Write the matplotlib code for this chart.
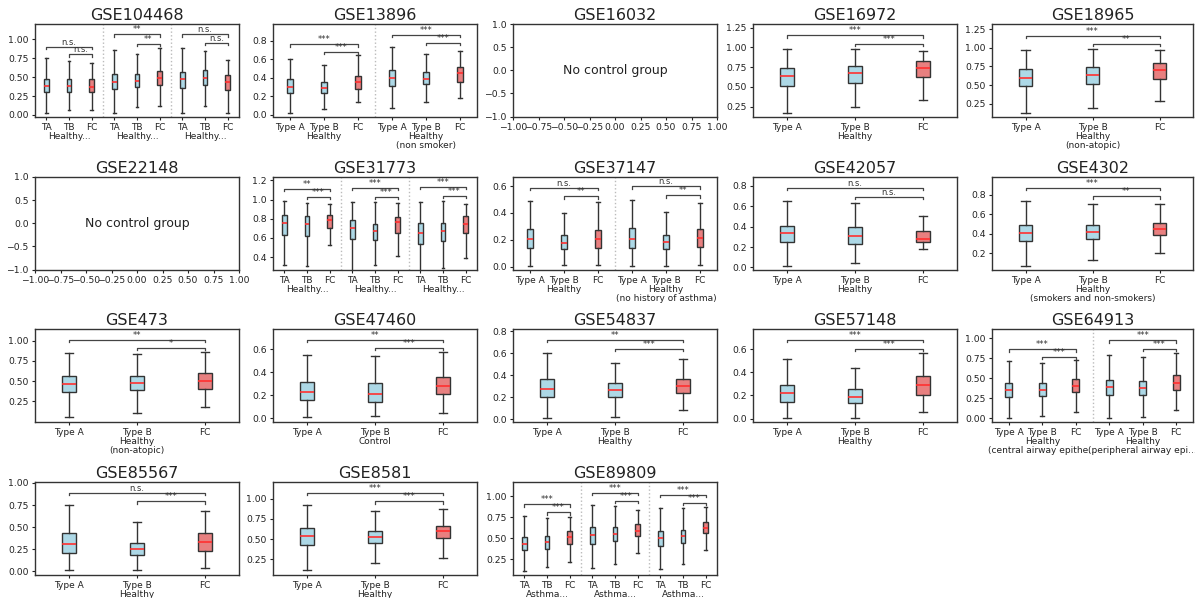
import matplotlib
matplotlib.use("Agg")
import matplotlib.pyplot as plt
import numpy as np

# box stats per box: [whisker low, q1, median, q3, whisker high]
# boxes come in groups of three: Type A, Type B, FC
GSE104468_box = [[0.03, 0.30, 0.38, 0.48, 0.75], [0.07, 0.30, 0.38, 0.47, 0.71], [0.07, 0.30, 0.37, 0.47, 0.69],
                 [0.03, 0.34, 0.43, 0.54, 0.86], [0.11, 0.365, 0.45, 0.535, 0.80], [0.12, 0.40, 0.49, 0.58, 0.88],
                 [0.03, 0.35, 0.47, 0.565, 0.88], [0.12, 0.40, 0.49, 0.59, 0.84], [0.03, 0.33, 0.44, 0.53, 0.73]]
GSE104468_sig = [[0.90, "n.s.", 0.80, "n.s."], [1.065, "**", 0.935, "**"], [1.065, "n.s.", 0.95, "n.s."]]
GSE104468_groups = ["Healthy...", "Healthy...", "Healthy..."]

GSE13896_box = [[0.02, 0.23, 0.30, 0.38, 0.60], [0.06, 0.23, 0.29, 0.35, 0.535], [0.14, 0.275, 0.35, 0.42, 0.64],
                [0.07, 0.31, 0.40, 0.48, 0.73], [0.14, 0.33, 0.39, 0.46, 0.66], [0.18, 0.35, 0.445, 0.52, 0.69]]
GSE13896_sig = [[0.76, "***", 0.68, "***"], [0.86, "***", 0.775, "***"]]
GSE13896_groups = ["Healthy", "Healthy\n(non smoker)"]

GSE16972_box = [[0.175, 0.51, 0.635, 0.74, 0.98], [0.25, 0.55, 0.67, 0.76, 0.98], [0.335, 0.627, 0.74, 0.83, 0.955]]
GSE16972_sig = [[1.15, "***", 1.04, "***"]]
GSE16972_groups = ["Healthy"]

GSE18965_box = [[0.13, 0.486, 0.597, 0.717, 0.975], [0.19, 0.52, 0.64, 0.743, 0.985], [0.285, 0.58, 0.70, 0.80, 0.97]]
GSE18965_sig = [[1.165, "***", 1.05, "**"]]
GSE18965_groups = ["Healthy\n(non-atopic)"]

GSE31773_box = [[0.32, 0.633, 0.755, 0.842, 0.984], [0.306, 0.62, 0.74, 0.83, 0.967], [0.53, 0.706, 0.79, 0.842, 0.95],
                [0.25, 0.584, 0.703, 0.79, 0.974], [0.32, 0.574, 0.668, 0.748, 0.974], [0.407, 0.654, 0.765, 0.817, 0.967],
                [0.25, 0.532, 0.65, 0.755, 0.974], [0.285, 0.567, 0.675, 0.758, 0.984], [0.39, 0.654, 0.75, 0.83, 0.95]]
GSE31773_sig = [[1.113, "**", 1.026, "***"], [1.123, "***", 1.026, "***"], [1.13, "***", 1.036, "***"]]
GSE31773_groups = ["Healthy...", "Healthy...", "Healthy..."]

GSE37147_box = [[0.005, 0.143, 0.205, 0.278, 0.4875], [0.01, 0.13, 0.18, 0.2375, 0.40], [0.01, 0.143, 0.21, 0.275, 0.478],
                [0.003, 0.143, 0.21, 0.285, 0.4975], [0.005, 0.13, 0.185, 0.2375, 0.4075], [0.01, 0.145, 0.2175, 0.2825, 0.475]]
GSE37147_sig = [[0.5875, "n.s.", 0.5225, "**"], [0.5975, "n.s.", 0.53, "**"]]
GSE37147_groups = ["Healthy", "Healthy\n(no history of asthma)"]

GSE42057_box = [[0.013, 0.2525, 0.338, 0.41, 0.646], [0.04, 0.23, 0.305, 0.393, 0.633], [0.177, 0.2525, 0.279, 0.36, 0.508]]
GSE42057_sig = [[0.777, "n.s.", 0.689, "n.s."]]
GSE42057_groups = ["Healthy"]

GSE4302_box = [[0.068, 0.321, 0.408, 0.484, 0.741], [0.13, 0.346, 0.418, 0.484, 0.703], [0.20, 0.384, 0.45, 0.512, 0.703]]
GSE4302_sig = [[0.87, "***", 0.783, "**"]]
GSE4302_groups = ["Healthy\n(smokers and non-smokers)"]

GSE473_box = [[0.056, 0.361, 0.464, 0.559, 0.848], [0.114, 0.386, 0.477, 0.567, 0.835], [0.18, 0.402, 0.50, 0.60, 0.856]]
GSE473_sig = [[1.012, "**", 0.909, "*"]]
GSE473_groups = ["Healthy\n(non-atopic)"]

GSE47460_box = [[0.009, 0.154, 0.226, 0.31, 0.551], [0.0145, 0.142, 0.212, 0.304, 0.542], [0.043, 0.209, 0.281, 0.354, 0.571]]
GSE47460_sig = [[0.681, "**", 0.609, "***"]]
GSE47460_groups = ["Control"]

GSE54837_box = [[0.009, 0.206, 0.28, 0.363, 0.606], [0.022, 0.206, 0.265, 0.329, 0.517], [0.083, 0.243, 0.30, 0.369, 0.548]]
GSE54837_sig = [[0.723, "**", 0.643, "***"]]
GSE54837_groups = ["Healthy"]

GSE57148_box = [[0.003, 0.146, 0.219, 0.293, 0.518], [0.003, 0.135, 0.19, 0.258, 0.439], [0.0585, 0.208, 0.29, 0.366, 0.571]]
GSE57148_sig = [[0.682, "***", 0.606, "***"]]
GSE57148_groups = ["Healthy"]

GSE64913_box = [[0.004, 0.265, 0.357, 0.445, 0.714], [0.034, 0.277, 0.357, 0.445, 0.693], [0.084, 0.328, 0.408, 0.487, 0.727],
                [0.004, 0.29, 0.387, 0.475, 0.786], [0.013, 0.29, 0.382, 0.47, 0.769], [0.105, 0.357, 0.445, 0.538, 0.819]]
GSE64913_sig = [[0.861, "***", 0.769, "***"], [0.97, "***", 0.866, "***"]]
GSE64913_groups = ["Healthy\n(central airway epithe...", "Healthy\n(peripheral airway epi..."]

GSE85567_box = [[0.011, 0.21, 0.313, 0.427, 0.752], [0.011, 0.179, 0.248, 0.324, 0.553], [0.0305, 0.229, 0.332, 0.435, 0.679]]
GSE85567_sig = [[0.889, "n.s.", 0.79, "***"]]
GSE85567_groups = ["Healthy"]

GSE8581_box = [[0.117, 0.425, 0.542, 0.633, 0.925], [0.20, 0.45, 0.529, 0.604, 0.854], [0.271, 0.5125, 0.60, 0.667, 0.871]]
GSE8581_sig = [[1.075, "***", 0.967, "***"]]
GSE8581_groups = ["Healthy"]

GSE89809_box = [[0.11, 0.358, 0.439, 0.519, 0.772], [0.162, 0.378, 0.459, 0.531, 0.739], [0.218, 0.439, 0.519, 0.591, 0.751],
                [0.142, 0.439, 0.543, 0.631, 0.90], [0.198, 0.471, 0.551, 0.631, 0.892], [0.322, 0.523, 0.591, 0.671, 0.844],
                [0.138, 0.41, 0.503, 0.591, 0.86], [0.19, 0.451, 0.523, 0.603, 0.86], [0.358, 0.559, 0.623, 0.691, 0.872]]
GSE89809_sig = [[0.904, "***", 0.812, "***"], [1.044, "***", 0.944, "***"], [1.02, "***", 0.92, "***"]]
GSE89809_groups = ["Asthma...", "Asthma...", "Asthma..."]

# title, boxes, significance, group names, ylim, yticks  (None = no control group)
panels = [
    ("GSE104468", GSE104468_box, GSE104468_sig, GSE104468_groups, (-0.02, 1.2), [0, 0.25, 0.5, 0.75, 1.0]),
    ("GSE13896", GSE13896_box, GSE13896_sig, GSE13896_groups, (-0.02, 0.98), [0, 0.2, 0.4, 0.6, 0.8]),
    ("GSE16032", None, None, None, None, None),
    ("GSE16972", GSE16972_box, GSE16972_sig, GSE16972_groups, (0.125, 1.295), [0.25, 0.5, 0.75, 1.0, 1.25]),
    ("GSE18965", GSE18965_box, GSE18965_sig, GSE18965_groups, (0.077, 1.32), [0.25, 0.5, 0.75, 1.0, 1.25]),
    ("GSE22148", None, None, None, None, None),
    ("GSE31773", GSE31773_box, GSE31773_sig, GSE31773_groups, (0.271, 1.235), [0.4, 0.6, 0.8, 1.0, 1.2]),
    ("GSE37147", GSE37147_box, GSE37147_sig, GSE37147_groups, (-0.02, 0.667), [0, 0.2, 0.4, 0.6]),
    ("GSE42057", GSE42057_box, GSE42057_sig, GSE42057_groups, (-0.02, 0.885), [0, 0.2, 0.4, 0.6, 0.8]),
    ("GSE4302", GSE4302_box, GSE4302_sig, GSE4302_groups, (0.03, 0.984), [0.2, 0.4, 0.6, 0.8]),
    ("GSE473", GSE473_box, GSE473_sig, GSE473_groups, (0.003, 1.144), [0.25, 0.5, 0.75, 1.0]),
    ("GSE47460", GSE47460_box, GSE47460_sig, GSE47460_groups, (-0.029, 0.774), [0, 0.2, 0.4, 0.6]),
    ("GSE54837", GSE54837_box, GSE54837_sig, GSE54837_groups, (-0.02, 0.822), [0, 0.2, 0.4, 0.6, 0.8]),
    ("GSE57148", GSE57148_box, GSE57148_sig, GSE57148_groups, (-0.026, 0.776), [0, 0.2, 0.4, 0.6]),
    ("GSE64913", GSE64913_box, GSE64913_sig, GSE64913_groups, (-0.038, 1.113), [0, 0.25, 0.5, 0.75, 1.0]),
    ("GSE85567", GSE85567_box, GSE85567_sig, GSE85567_groups, (-0.038, 1.011), [0, 0.25, 0.5, 0.75, 1.0]),
    ("GSE8581", GSE8581_box, GSE8581_sig, GSE8581_groups, (0.0625, 1.208), [0.25, 0.5, 0.75, 1.0]),
    ("GSE89809", GSE89809_box, GSE89809_sig, GSE89809_groups, (0.07, 1.172), [0.25, 0.5, 0.75, 1.0]),
]

blue = "#ADD8E6"
red = "#E88080"
edge = "#333333"

W, H = 1195, 598
fig = plt.figure(figsize=(W / 100, H / 100), dpi=100)

col_left = [35, 273, 513, 753, 992]
col_w = [204, 204, 204, 204, 201]
row_top = [24, 177, 329, 482]
row_h = 92.5

for i, (title, boxes, sig, groups, ylim, yticks) in enumerate(panels):
    r, c = divmod(i, 5)
    ax = fig.add_axes([col_left[c] / W, 1 - (row_top[r] + row_h) / H, col_w[c] / W, row_h / H])
    for s in ax.spines.values():
        s.set_color(edge)
        s.set_linewidth(1.0)
    ax.tick_params(labelsize=6.7, length=2.5, pad=2, colors="#222222", width=0.8)
    ax.set_title(title, fontsize=11.5, pad=3, color="#222222")

    if boxes is None:
        ax.set_xlim(-1, 1)
        ax.set_ylim(-1, 1)
        ax.set_xticks(np.linspace(-1, 1, 9))
        ax.set_yticks([-1, -0.5, 0, 0.5, 1])
        ax.text(0.5, 0.5, "No control group", transform=ax.transAxes,
                ha="center", va="center", fontsize=9, color="#222222")
        continue

    ngroups = len(groups)
    stats = []
    for b in boxes:
        stats.append(dict(whislo=b[0], q1=b[1], med=b[2], q3=b[3], whishi=b[4]))
    pos = np.arange(len(boxes))
    art = ax.bxp(stats, positions=pos, widths=0.2, capwidths=0.12, patch_artist=True, showfliers=False,
                 boxprops=dict(edgecolor=edge, linewidth=1.0),
                 medianprops=dict(color="#FF3030", linewidth=1.2),
                 whiskerprops=dict(color=edge, linewidth=1.0),
                 capprops=dict(color=edge, linewidth=1.0))
    for k, patch in enumerate(art["boxes"]):
        patch.set_facecolor(red if k % 3 == 2 else blue)

    ax.set_xlim(-0.5, len(boxes) - 0.5)
    ax.set_ylim(*ylim)
    ax.set_yticks(yticks)

    short = ngroups == 3
    labels = []
    for g in range(ngroups):
        a, b = ("TA", "TB") if short else ("Type A", "Type B")
        labels += [a, b + "\n" + groups[g], "FC"]
    ax.set_xticks(pos)
    ax.set_xticklabels(labels, fontsize=6.5, linespacing=1.05)

    for g in range(1, ngroups):
        ax.axvline(3 * g - 0.5, color="#BBBBBB", ls=":", lw=1.0)

    tick_h = 0.025 * (ylim[1] - ylim[0])
    for g, (y_up, s_up, y_lo, s_lo) in enumerate(sig):
        p = 3 * g
        for x1, x2, y, s in [(p, p + 2, y_up, s_up), (p + 1, p + 2, y_lo, s_lo)]:
            ax.plot([x1, x1, x2, x2], [y - tick_h, y, y, y - tick_h], color="#444444", lw=0.9)
            ax.text((x1 + x2) / 2, y, s, ha="center", va="bottom", fontsize=6, color="#333333")

fig.savefig("out.png", dpi=100)
